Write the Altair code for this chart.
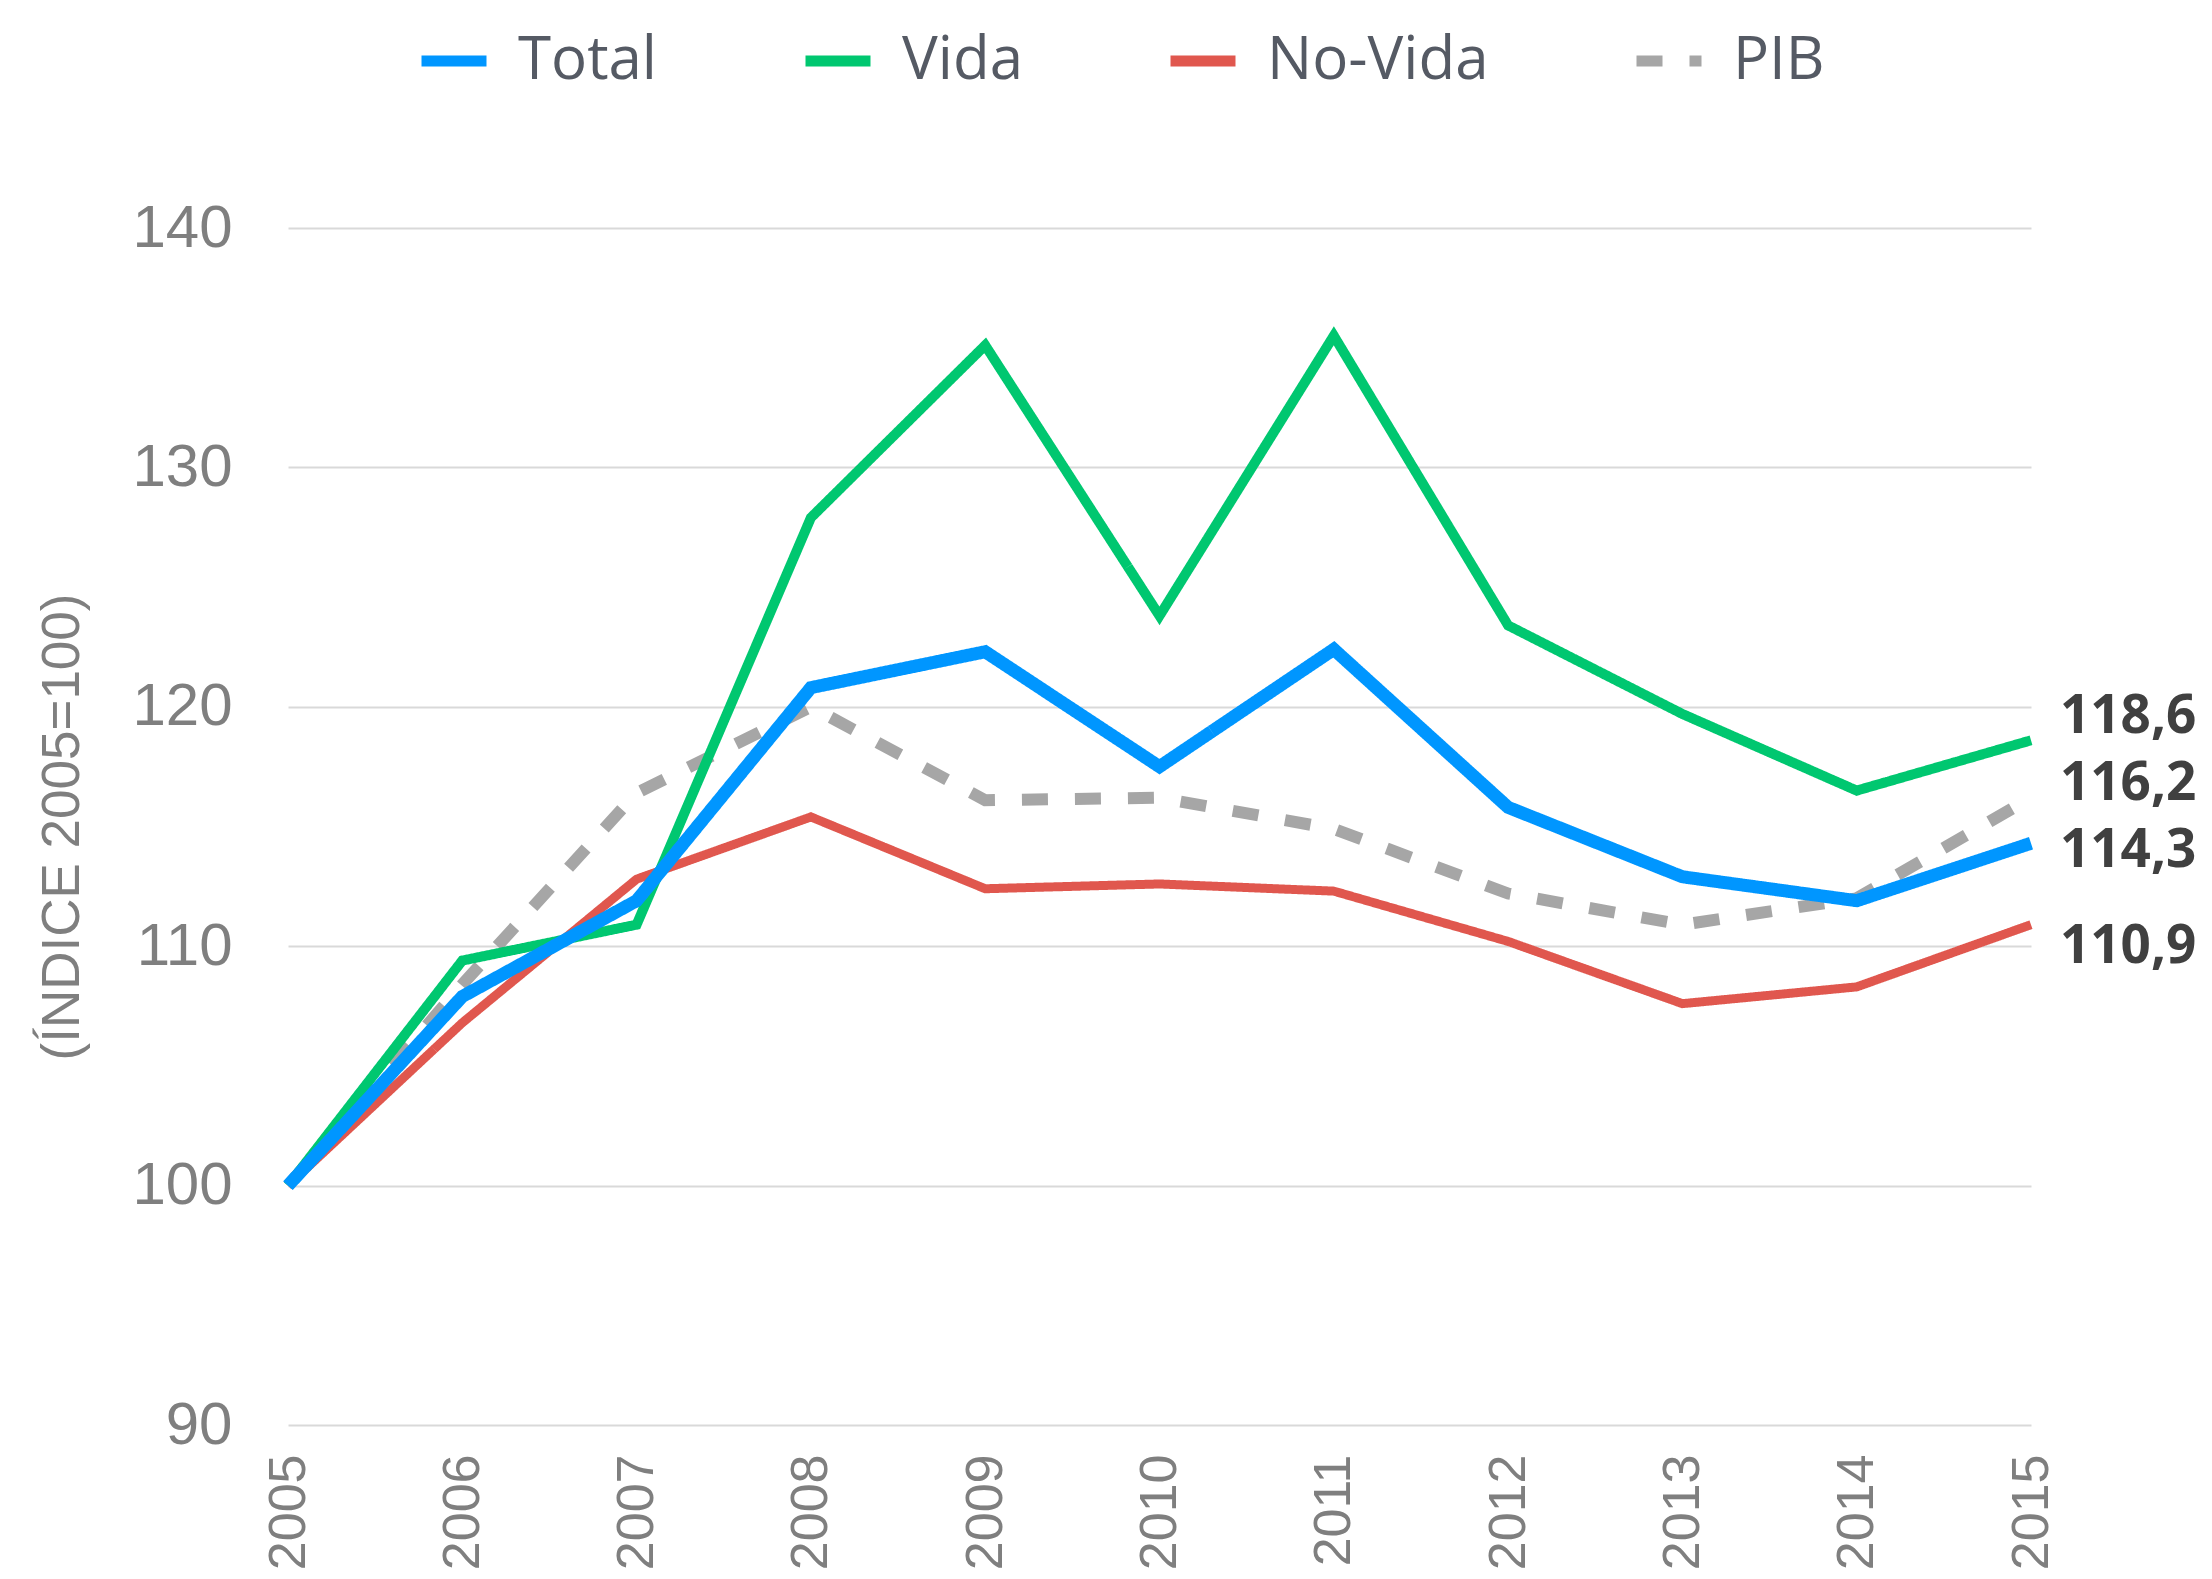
import altair as alt
import pandas as pd

# ---- data ----
years = [2005, 2006, 2007, 2008, 2009, 2010, 2011, 2012, 2013, 2014, 2015]
total = [100, 107.9, 111.9, 120.8, 122.3, 117.5, 122.4, 115.8, 112.9, 111.9, 114.3]
vida = [100, 109.4, 110.9, 127.9, 135.1, 123.8, 135.5, 123.4, 119.7, 116.5, 118.6]
no_vida = [100, 106.8, 112.8, 115.4, 112.4, 112.6, 112.3, 110.2, 107.6, 108.3, 110.9]
pib = [100, 108.4, 116.4, 120.0, 116.1, 116.2, 114.9, 112.2, 110.9, 112.0, 116.2]
series_names = ["Total", "Vida", "No-Vida", "PIB"]
y_ticks = [90, 100, 110, 120, 130, 140]

series_values = {"Total": total, "Vida": vida, "No-Vida": no_vida, "PIB": pib}

rows = []
for name in series_names:
    for yr, v in zip(years, series_values[name]):
        rows.append({"year": yr, "serie": name, "value": v})
df = pd.DataFrame(rows)

last = pd.DataFrame(
    [{"year": years[-1], "serie": n, "value": series_values[n][-1],
      "label": f"{series_values[n][-1]:.1f}".replace(".", ",")} for n in series_names]
)

# ---- styles ----
colors = ["#0096FF", "#00C770", "#E0574E", "#A6A6A6"]
dashes = [[1, 0], [1, 0], [1, 0], [26, 27]]
widths = {"Total": 13, "Vida": 10, "No-Vida": 9, "PIB": 12}
draw_order = ["PIB", "No-Vida", "Vida", "Total"]
label_dy = {"Vida": -23, "PIB": -14, "Total": 8, "No-Vida": 22}

W, H = 1743, 1197

x_enc = alt.X(
    "year:Q",
    scale=alt.Scale(domain=[2005, 2015], nice=False, zero=False),
    axis=alt.Axis(
        values=years, format="d", labelAngle=270, labelFontSize=52,
        labelFont="Liberation Sans", labelColor="#7F7F7F", labelPadding=29,
        labelFlush=False, labelOverlap=False, ticks=False, domain=False,
        grid=False, title=None,
    ),
)
y_enc = alt.Y(
    "value:Q",
    scale=alt.Scale(domain=[90, 140], nice=False, zero=False),
    axis=alt.Axis(
        values=y_ticks, labelFontSize=60, labelFont="Liberation Sans",
        labelColor="#7F7F7F", labelPadding=56, ticks=False, domain=False,
        grid=True, gridColor="#D9D9D9", gridWidth=2,
        title="(ÍNDICE 2005=100)", titleFont="Liberation Sans",
        titleFontSize=53, titleFontWeight="normal", titleColor="#7F7F7F",
        titlePadding=42,
    ),
)
legend_cfg = dict(
    title=None, orient="none", legendX=128, legendY=-205,
    direction="horizontal", symbolType="stroke", symbolSize=4225,
    symbolStrokeWidth=11, labelFontSize=60, labelFont="Open Sans",
    labelColor="#555A64", labelOffset=26, columnPadding=125, padding=0,
    labelLimit=600,
)
color_enc = alt.Color(
    "serie:N",
    scale=alt.Scale(domain=series_names, range=colors),
    legend=alt.Legend(**legend_cfg),
)
dash_enc = alt.StrokeDash(
    "serie:N",
    scale=alt.Scale(domain=series_names, range=dashes),
    legend=alt.Legend(**legend_cfg),
)

layers = []
for name in draw_order:
    layers.append(
        alt.Chart(df)
        .transform_filter(alt.datum.serie == name)
        .mark_line(strokeWidth=widths[name], strokeCap="butt", strokeJoin="miter")
        .encode(x=x_enc, y=y_enc, color=color_enc, strokeDash=dash_enc)
    )

for name in series_names:
    layers.append(
        alt.Chart(last)
        .transform_filter(alt.datum.serie == name)
        .mark_text(
            align="left", baseline="middle", dx=29, dy=label_dy[name],
            fontSize=53, fontWeight="bold", font="Open Sans",
            color="#404040",
        )
        .encode(x=x_enc, y=y_enc, text="label:N")
    )

chart = (
    alt.layer(*layers)
    .properties(
        width=W, height=H,
        background="white",
        autosize=alt.AutoSizeParams(type="none"),
        padding={"left": 280, "top": 220, "right": 170, "bottom": 146},
    )
    .configure_view(stroke="transparent", strokeWidth=0)
)

chart.save("out.html", embed_options={"renderer": "svg", "actions": False})
